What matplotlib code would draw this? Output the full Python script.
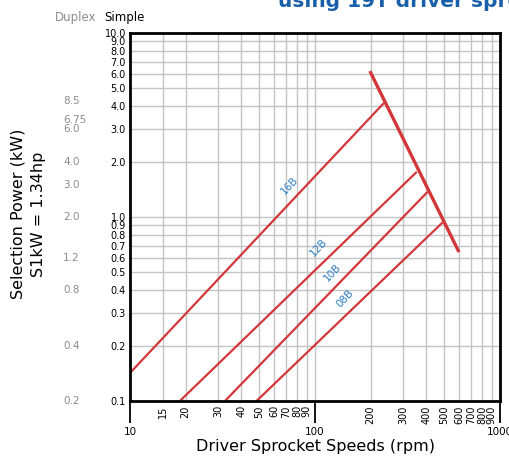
import matplotlib.pyplot as plt
from matplotlib.transforms import blended_transform_factory

# chain lines: (start rpm, start kW) -> (end rpm, end kW)
chains = ["16B", "12B", "10B", "08B"]
start_rpm = [10, 18.6, 32.6, 48.3]
start_kw = [0.142, 0.1, 0.1, 0.1]
end_rpm = [236, 355, 406, 490]
end_kw = [4.17, 1.76, 1.37, 0.935]

# limit line
limit_rpm = [198, 600]
limit_kw = [6.21, 0.645]

# label positions (rpm, kW)
label_rpm = [73, 105, 124, 145]
label_kw = [1.49, 0.68, 0.50, 0.36]

y_ticks = [0.1, 0.2, 0.3, 0.4, 0.5, 0.6, 0.7, 0.8, 0.9, 1.0,
           2.0, 3.0, 4.0, 5.0, 6.0, 7.0, 8.0, 9.0, 10.0]
x_minor = [15, 20, 30, 40, 50, 60, 70, 80, 90,
           200, 300, 400, 500, 600, 700, 800, 900]
x_major = [10, 100, 1000]
duplex_labels = ["8.5", "6.75", "6.0", "4.0", "3.0", "2.0", "1.2", "0.8", "0.4", "0.2"]
duplex_vals = [8.5, 6.75, 6.0, 4.0, 3.0, 2.0, 1.2, 0.8, 0.4, 0.2]

RED = '#d2373a'
BLUE = '#2f7fc1'

fig = plt.figure(figsize=(5.09, 4.61), dpi=100)
ax = fig.add_axes([130/509, 1-401/461, 370/509, 368/461])
ax.set_xscale('log')
ax.set_yscale('log')
ax.set_xlim(10, 1000)
ax.set_ylim(0.1, 10)

# grid
for v in y_ticks:
    ax.axhline(v, color='#c4c4c4', lw=1, zorder=0)
for v in x_minor + [100]:
    ax.axvline(v, color='#c4c4c4', lw=1, zorder=0)

for i in range(len(chains)):
    ax.plot([start_rpm[i], end_rpm[i]], [start_kw[i], end_kw[i]],
            color=RED, lw=1.6, solid_capstyle='butt', zorder=3)
    ax.text(label_rpm[i], label_kw[i], chains[i], color=BLUE, fontsize=7.5,
            rotation=47, ha='center', va='center', zorder=4)
ax.plot(limit_rpm, limit_kw, color=RED, lw=2.4, solid_capstyle='butt', zorder=3)

# ticks
ax.set_yticks(y_ticks)
ax.set_yticklabels([f"{v:.1f}" for v in y_ticks])
ax.yaxis.set_minor_locator(plt.NullLocator())
ax.tick_params(axis='y', which='major', length=0, pad=3, labelsize=7)

ax.set_xticks(x_major)
ax.set_xticklabels(["10", "100", "1000"])
ax.set_xticks(x_minor, minor=True)
ax.set_xticklabels([str(v) for v in x_minor], minor=True, rotation=90)
ax.tick_params(axis='x', which='major', length=16, width=1.3, pad=3, labelsize=7.5)
ax.tick_params(axis='x', which='minor', length=0, pad=3, labelsize=7)

for s in ax.spines.values():
    s.set_linewidth(2)
    s.set_zorder(5)

# duplex column
trans = blended_transform_factory(ax.transAxes, ax.transData)
for lab, v in zip(duplex_labels, duplex_vals):
    ax.text(-0.181, v / 2, lab, transform=trans, color='#8c8c8c', fontsize=7.5,
            ha='left', va='center', clip_on=False)

fig.text(55/509, 1-17/461, "Duplex", color='#8c8c8c', fontsize=8.5, va='center')
fig.text(104/509, 1-17/461, "Simple", color='black', fontsize=8.5, va='center')

ax.set_xlabel("Driver Sprocket Speeds (rpm)", fontsize=11.5, labelpad=1)
fig.text(18/509, 1-214/461, "Selection Power (kW)", rotation=90, fontsize=11.5,
         ha='center', va='center')
fig.text(39/509, 1-214/461, "S1kW = 1.34hp", rotation=90, fontsize=11.5,
         ha='center', va='center')

fig.text(278/509, 1-7/461, "using 19T driver sprocket", color='#1a5faa',
         fontsize=14.5, fontweight='heavy', va='baseline')

fig.savefig("out.png", dpi=100)
